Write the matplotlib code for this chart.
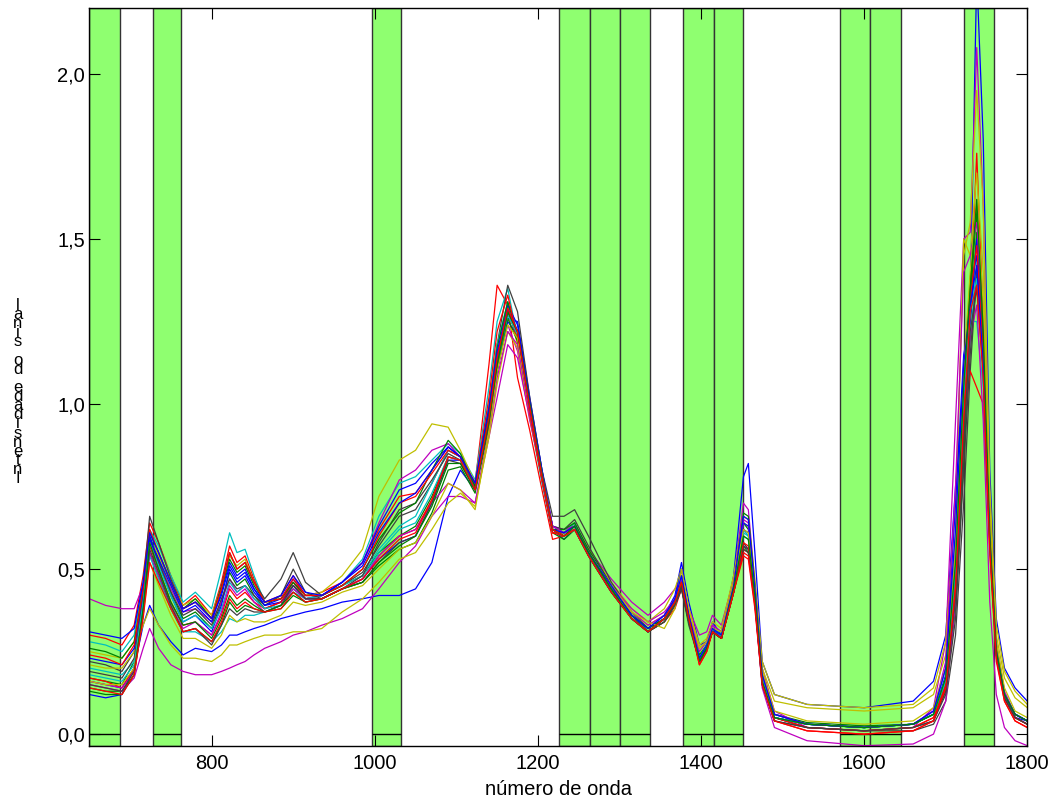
import numpy as np
import matplotlib
matplotlib.use('Agg')
import matplotlib.pyplot as plt
from matplotlib.ticker import FuncFormatter

plt.rcParams['font.family'] = ['Liberation Sans', 'DejaVu Sans']

# wavenumber grid
wn = [650, 670, 690, 705, 716, 724, 735, 750, 765, 780,
      800, 812, 822, 831, 841, 852, 865, 885, 900, 915,
      935, 960, 985, 1005, 1030, 1050, 1070, 1090, 1105, 1123,
      1140, 1150, 1163, 1175, 1190, 1205, 1218, 1232, 1245, 1262,
      1290, 1315, 1335, 1355, 1368, 1376, 1385, 1398, 1407, 1414,
      1425, 1440, 1452, 1458, 1466, 1475, 1490, 1530, 1600, 1660,
      1685, 1700, 1712, 1722, 1730, 1738, 1746, 1754, 1762, 1772,
      1785, 1800]

s01 = [0.12, 0.11, 0.12, 0.20, 0.33, 0.39, 0.33, 0.28, 0.24, 0.26,
       0.25, 0.27, 0.30, 0.30, 0.31, 0.32, 0.33, 0.35, 0.36, 0.37,
       0.38, 0.40, 0.41, 0.42, 0.42, 0.44, 0.52, 0.72, 0.80, 0.74,
       0.95, 1.10, 1.26, 1.25, 1.02, 0.80, 0.62, 0.59, 0.62, 0.55,
       0.44, 0.36, 0.32, 0.36, 0.42, 0.52, 0.40, 0.27, 0.28, 0.34,
       0.30, 0.48, 0.78, 0.82, 0.55, 0.22, 0.12, 0.09, 0.08, 0.10,
       0.16, 0.30, 0.75, 1.05, 1.30, 2.30, 1.80, 0.80, 0.35, 0.20,
       0.14, 0.10]
s02 = [0.17, 0.16, 0.15, 0.22, 0.42, 0.60, 0.53, 0.43, 0.35, 0.37,
       0.32, 0.40, 0.49, 0.45, 0.47, 0.42, 0.38, 0.40, 0.45, 0.41,
       0.42, 0.45, 0.48, 0.55, 0.60, 0.63, 0.72, 0.84, 0.83, 0.74,
       0.96, 1.14, 1.29, 1.20, 0.98, 0.78, 0.62, 0.61, 0.64, 0.55,
       0.44, 0.36, 0.32, 0.35, 0.40, 0.46, 0.35, 0.24, 0.27, 0.32,
       0.30, 0.45, 0.64, 0.62, 0.42, 0.17, 0.06, 0.035, 0.025, 0.03,
       0.06, 0.14, 0.38, 0.82, 1.25, 1.52, 1.15, 0.62, 0.26, 0.12,
       0.06, 0.04]
s03 = [0.30, 0.29, 0.27, 0.33, 0.48, 0.64, 0.58, 0.48, 0.39, 0.42,
       0.36, 0.46, 0.57, 0.52, 0.54, 0.47, 0.40, 0.42, 0.48, 0.42,
       0.43, 0.46, 0.52, 0.62, 0.72, 0.73, 0.80, 0.87, 0.84, 0.76,
       1.12, 1.36, 1.30, 1.08, 0.92, 0.74, 0.59, 0.60, 0.62, 0.54,
       0.43, 0.35, 0.31, 0.34, 0.38, 0.44, 0.34, 0.22, 0.26, 0.31,
       0.29, 0.43, 0.56, 0.55, 0.40, 0.16, 0.05, 0.02, 0.01, 0.02,
       0.05, 0.13, 0.42, 0.90, 1.30, 1.76, 1.25, 0.62, 0.24, 0.11,
       0.05, 0.03]
s04 = [0.28, 0.27, 0.25, 0.30, 0.46, 0.62, 0.57, 0.48, 0.40, 0.43,
       0.38, 0.50, 0.61, 0.55, 0.56, 0.48, 0.40, 0.41, 0.45, 0.41,
       0.42, 0.46, 0.53, 0.66, 0.76, 0.78, 0.83, 0.88, 0.85, 0.77,
       1.05, 1.25, 1.35, 1.20, 0.96, 0.76, 0.61, 0.61, 0.64, 0.55,
       0.44, 0.36, 0.31, 0.35, 0.40, 0.45, 0.34, 0.23, 0.27, 0.32,
       0.30, 0.44, 0.62, 0.60, 0.42, 0.17, 0.06, 0.03, 0.02, 0.03,
       0.06, 0.16, 0.45, 0.92, 1.20, 1.42, 1.12, 0.58, 0.24, 0.12,
       0.06, 0.04]
s05 = [0.41, 0.39, 0.38, 0.38, 0.45, 0.58, 0.52, 0.44, 0.37, 0.38,
       0.34, 0.40, 0.47, 0.43, 0.45, 0.41, 0.38, 0.40, 0.44, 0.41,
       0.42, 0.46, 0.52, 0.64, 0.77, 0.80, 0.86, 0.88, 0.84, 0.76,
       0.98, 1.12, 1.24, 1.16, 0.95, 0.78, 0.63, 0.62, 0.63, 0.56,
       0.47, 0.40, 0.36, 0.40, 0.44, 0.47, 0.38, 0.30, 0.31, 0.36,
       0.33, 0.47, 0.70, 0.68, 0.46, 0.20, 0.07, 0.02, 0.01, 0.02,
       0.08, 0.28, 0.95, 1.50, 1.52, 2.08, 1.60, 0.70, 0.28, 0.13,
       0.06, 0.04]
s06 = [0.25, 0.24, 0.23, 0.28, 0.44, 0.59, 0.54, 0.46, 0.39, 0.41,
       0.36, 0.45, 0.54, 0.51, 0.53, 0.46, 0.40, 0.41, 0.46, 0.42,
       0.43, 0.48, 0.56, 0.72, 0.83, 0.86, 0.94, 0.93, 0.86, 0.76,
       1.00, 1.18, 1.30, 1.18, 0.96, 0.77, 0.62, 0.61, 0.63, 0.56,
       0.46, 0.38, 0.34, 0.38, 0.44, 0.50, 0.38, 0.27, 0.29, 0.34,
       0.32, 0.48, 0.66, 0.65, 0.47, 0.22, 0.12, 0.09, 0.08, 0.09,
       0.14, 0.28, 0.70, 1.45, 1.55, 1.95, 1.60, 0.75, 0.33, 0.19,
       0.13, 0.09]
s07 = [0.22, 0.21, 0.19, 0.25, 0.45, 0.66, 0.58, 0.47, 0.38, 0.40,
       0.35, 0.45, 0.55, 0.50, 0.52, 0.46, 0.41, 0.47, 0.55, 0.46,
       0.42, 0.45, 0.49, 0.57, 0.66, 0.68, 0.76, 0.86, 0.84, 0.75,
       0.98, 1.18, 1.36, 1.28, 1.02, 0.80, 0.66, 0.66, 0.68, 0.60,
       0.46, 0.37, 0.32, 0.35, 0.39, 0.44, 0.34, 0.23, 0.26, 0.31,
       0.29, 0.43, 0.58, 0.56, 0.40, 0.16, 0.05, 0.02, 0.01, 0.01,
       0.03, 0.10, 0.30, 0.70, 1.10, 1.40, 1.18, 0.65, 0.27, 0.12,
       0.05, 0.03]
s08 = [0.16, 0.15, 0.14, 0.20, 0.40, 0.60, 0.52, 0.42, 0.34, 0.36,
       0.31, 0.39, 0.50, 0.46, 0.48, 0.43, 0.39, 0.40, 0.45, 0.41,
       0.41, 0.44, 0.47, 0.53, 0.58, 0.60, 0.70, 0.83, 0.83, 0.74,
       0.94, 1.10, 1.25, 1.21, 1.00, 0.79, 0.62, 0.60, 0.62, 0.54,
       0.43, 0.35, 0.31, 0.35, 0.40, 0.47, 0.35, 0.22, 0.26, 0.32,
       0.29, 0.44, 0.62, 0.61, 0.42, 0.16, 0.05, 0.03, 0.02, 0.03,
       0.06, 0.18, 0.55, 1.10, 1.35, 1.45, 1.10, 0.58, 0.24, 0.11,
       0.05, 0.04]
s09 = [0.14, 0.13, 0.13, 0.18, 0.36, 0.55, 0.48, 0.38, 0.31, 0.32,
       0.28, 0.33, 0.40, 0.37, 0.39, 0.38, 0.37, 0.38, 0.42, 0.40,
       0.41, 0.44, 0.46, 0.51, 0.56, 0.58, 0.67, 0.80, 0.81, 0.73,
       0.93, 1.10, 1.26, 1.19, 0.98, 0.78, 0.61, 0.59, 0.62, 0.54,
       0.43, 0.35, 0.31, 0.34, 0.39, 0.45, 0.34, 0.22, 0.26, 0.31,
       0.29, 0.44, 0.57, 0.55, 0.40, 0.16, 0.05, 0.03, 0.02, 0.03,
       0.06, 0.17, 0.50, 1.00, 1.38, 1.58, 1.20, 0.60, 0.25, 0.12,
       0.06, 0.04]
s10 = [0.17, 0.16, 0.14, 0.20, 0.39, 0.57, 0.50, 0.40, 0.33, 0.34,
       0.30, 0.36, 0.44, 0.41, 0.43, 0.40, 0.38, 0.40, 0.46, 0.41,
       0.41, 0.44, 0.47, 0.54, 0.60, 0.62, 0.71, 0.84, 0.83, 0.74,
       0.97, 1.15, 1.28, 1.20, 0.97, 0.77, 0.61, 0.60, 0.63, 0.55,
       0.44, 0.35, 0.31, 0.35, 0.40, 0.46, 0.35, 0.21, 0.25, 0.31,
       0.29, 0.43, 0.54, 0.53, 0.38, 0.15, 0.04, 0.01, 0.00, 0.01,
       0.04, 0.14, 0.45, 0.95, 1.10, 1.05, 1.00, 0.55, 0.22, 0.10,
       0.04, 0.02]
s11 = [0.20, 0.19, 0.18, 0.22, 0.38, 0.54, 0.47, 0.38, 0.31, 0.31,
       0.28, 0.31, 0.35, 0.34, 0.36, 0.36, 0.37, 0.39, 0.43, 0.41,
       0.42, 0.45, 0.48, 0.56, 0.63, 0.66, 0.76, 0.86, 0.84, 0.75,
       0.99, 1.18, 1.31, 1.22, 0.99, 0.78, 0.62, 0.60, 0.63, 0.55,
       0.44, 0.35, 0.31, 0.35, 0.40, 0.46, 0.35, 0.23, 0.27, 0.32,
       0.30, 0.45, 0.60, 0.59, 0.41, 0.17, 0.05, 0.03, 0.02, 0.03,
       0.06, 0.17, 0.52, 1.05, 1.25, 1.25, 1.05, 0.58, 0.24, 0.12,
       0.06, 0.04]
s12 = [0.15, 0.14, 0.13, 0.17, 0.26, 0.32, 0.26, 0.21, 0.19, 0.18,
       0.18, 0.19, 0.20, 0.21, 0.22, 0.24, 0.26, 0.28, 0.30, 0.31,
       0.33, 0.35, 0.38, 0.44, 0.52, 0.57, 0.66, 0.72, 0.72, 0.70,
       0.90, 1.02, 1.18, 1.14, 0.96, 0.78, 0.63, 0.61, 0.62, 0.55,
       0.45, 0.38, 0.34, 0.37, 0.41, 0.44, 0.36, 0.26, 0.28, 0.33,
       0.31, 0.44, 0.57, 0.56, 0.40, 0.14, 0.02, -0.02, -0.035, -0.03,
       0.00, 0.10, 0.40, 0.90, 1.20, 1.30, 0.95, 0.40, 0.12, 0.02,
       -0.02, -0.035]
s13 = [0.21, 0.20, 0.20, 0.25, 0.33, 0.38, 0.33, 0.27, 0.23, 0.23,
       0.22, 0.24, 0.27, 0.27, 0.28, 0.29, 0.30, 0.30, 0.31, 0.31,
       0.32, 0.37, 0.41, 0.46, 0.53, 0.55, 0.62, 0.70, 0.73, 0.69,
       0.90, 1.06, 1.22, 1.17, 0.97, 0.78, 0.62, 0.60, 0.62, 0.55,
       0.45, 0.37, 0.33, 0.36, 0.41, 0.48, 0.36, 0.26, 0.28, 0.32,
       0.31, 0.46, 0.64, 0.63, 0.45, 0.20, 0.10, 0.08, 0.07, 0.08,
       0.12, 0.24, 0.60, 1.50, 1.45, 1.70, 1.40, 0.70, 0.30, 0.17,
       0.11, 0.08]
s14 = [0.19, 0.18, 0.17, 0.23, 0.41, 0.59, 0.52, 0.43, 0.36, 0.38,
       0.33, 0.41, 0.47, 0.44, 0.45, 0.42, 0.39, 0.42, 0.50, 0.43,
       0.41, 0.44, 0.48, 0.58, 0.68, 0.70, 0.77, 0.85, 0.83, 0.75,
       0.96, 1.13, 1.28, 1.22, 1.00, 0.79, 0.63, 0.62, 0.65, 0.57,
       0.45, 0.36, 0.31, 0.34, 0.39, 0.44, 0.33, 0.22, 0.26, 0.31,
       0.29, 0.43, 0.57, 0.56, 0.40, 0.15, 0.04, 0.02, 0.01, 0.02,
       0.04, 0.12, 0.35, 0.80, 1.15, 1.40, 1.10, 0.58, 0.24, 0.11,
       0.05, 0.03]
s15 = [0.23, 0.22, 0.21, 0.26, 0.43, 0.59, 0.53, 0.45, 0.37, 0.39,
       0.34, 0.43, 0.52, 0.48, 0.50, 0.44, 0.39, 0.41, 0.47, 0.42,
       0.42, 0.46, 0.52, 0.63, 0.74, 0.76, 0.82, 0.87, 0.84, 0.76,
       0.97, 1.14, 1.30, 1.24, 1.01, 0.80, 0.63, 0.61, 0.63, 0.55,
       0.44, 0.35, 0.31, 0.35, 0.41, 0.50, 0.36, 0.22, 0.26, 0.31,
       0.29, 0.44, 0.64, 0.63, 0.43, 0.17, 0.05, 0.03, 0.02, 0.03,
       0.07, 0.20, 0.70, 1.15, 1.25, 1.50, 1.15, 0.60, 0.25, 0.12,
       0.06, 0.04]
s16 = [0.26, 0.25, 0.23, 0.28, 0.44, 0.61, 0.55, 0.46, 0.38, 0.41,
       0.35, 0.44, 0.53, 0.49, 0.51, 0.45, 0.40, 0.41, 0.46, 0.42,
       0.42, 0.45, 0.50, 0.59, 0.67, 0.70, 0.80, 0.89, 0.85, 0.75,
       0.98, 1.17, 1.31, 1.21, 0.98, 0.78, 0.62, 0.62, 0.64, 0.56,
       0.45, 0.36, 0.32, 0.35, 0.40, 0.46, 0.35, 0.23, 0.27, 0.32,
       0.30, 0.45, 0.67, 0.66, 0.45, 0.18, 0.06, 0.03, 0.02, 0.03,
       0.06, 0.15, 0.42, 0.90, 1.30, 1.60, 1.22, 0.62, 0.26, 0.12,
       0.06, 0.04]
s17 = [0.24, 0.23, 0.21, 0.27, 0.44, 0.62, 0.55, 0.46, 0.38, 0.40,
       0.35, 0.44, 0.55, 0.50, 0.52, 0.46, 0.40, 0.41, 0.47, 0.42,
       0.42, 0.45, 0.50, 0.60, 0.70, 0.72, 0.79, 0.86, 0.84, 0.76,
       1.02, 1.22, 1.33, 1.20, 0.97, 0.77, 0.61, 0.61, 0.63, 0.55,
       0.44, 0.35, 0.31, 0.35, 0.40, 0.46, 0.35, 0.22, 0.26, 0.31,
       0.29, 0.43, 0.58, 0.57, 0.41, 0.16, 0.05, 0.02, 0.01, 0.02,
       0.05, 0.15, 0.48, 1.00, 1.32, 1.48, 1.15, 0.60, 0.25, 0.11,
       0.05, 0.03]
s18 = [0.18, 0.17, 0.16, 0.21, 0.40, 0.58, 0.51, 0.42, 0.34, 0.36,
       0.32, 0.38, 0.46, 0.43, 0.45, 0.41, 0.38, 0.39, 0.44, 0.41,
       0.41, 0.44, 0.47, 0.55, 0.62, 0.64, 0.73, 0.84, 0.83, 0.74,
       0.95, 1.12, 1.27, 1.21, 0.99, 0.78, 0.62, 0.60, 0.63, 0.55,
       0.44, 0.35, 0.31, 0.35, 0.40, 0.46, 0.35, 0.23, 0.27, 0.32,
       0.30, 0.45, 0.61, 0.60, 0.42, 0.17, 0.05, 0.03, 0.02, 0.03,
       0.06, 0.16, 0.50, 1.02, 1.28, 1.38, 1.12, 0.60, 0.25, 0.12,
       0.06, 0.04]
s19 = [0.16, 0.15, 0.14, 0.19, 0.37, 0.55, 0.48, 0.39, 0.32, 0.34,
       0.30, 0.37, 0.45, 0.42, 0.44, 0.40, 0.37, 0.39, 0.44, 0.41,
       0.41, 0.44, 0.47, 0.54, 0.60, 0.62, 0.70, 0.76, 0.74, 0.70,
       0.92, 1.08, 1.22, 1.18, 0.98, 0.79, 0.63, 0.61, 0.62, 0.55,
       0.45, 0.37, 0.33, 0.36, 0.41, 0.47, 0.36, 0.25, 0.28, 0.33,
       0.31, 0.46, 0.65, 0.64, 0.44, 0.18, 0.06, 0.03, 0.02, 0.03,
       0.07, 0.22, 0.75, 1.40, 1.45, 1.55, 1.25, 0.62, 0.25, 0.12,
       0.06, 0.04]
s20 = [0.16, 0.15, 0.15, 0.20, 0.36, 0.52, 0.45, 0.36, 0.29, 0.29,
       0.26, 0.30, 0.36, 0.34, 0.35, 0.34, 0.34, 0.36, 0.40, 0.39,
       0.40, 0.43, 0.45, 0.50, 0.56, 0.58, 0.66, 0.76, 0.74, 0.68,
       0.92, 1.10, 1.24, 1.20, 0.99, 0.78, 0.62, 0.60, 0.62, 0.55,
       0.45, 0.37, 0.34, 0.32, 0.38, 0.50, 0.38, 0.26, 0.28, 0.32,
       0.31, 0.46, 0.62, 0.61, 0.44, 0.19, 0.07, 0.04, 0.03, 0.04,
       0.08, 0.20, 0.55, 1.10, 1.40, 1.62, 1.30, 0.65, 0.28, 0.14,
       0.07, 0.05]
s21 = [0.15, 0.14, 0.13, 0.19, 0.37, 0.56, 0.49, 0.39, 0.31, 0.32,
       0.27, 0.33, 0.38, 0.36, 0.38, 0.37, 0.37, 0.39, 0.45, 0.41,
       0.41, 0.44, 0.46, 0.52, 0.58, 0.60, 0.70, 0.83, 0.82, 0.74,
       0.94, 1.12, 1.28, 1.22, 0.99, 0.78, 0.62, 0.60, 0.62, 0.55,
       0.44, 0.35, 0.31, 0.35, 0.39, 0.45, 0.34, 0.22, 0.26, 0.31,
       0.29, 0.43, 0.56, 0.55, 0.40, 0.15, 0.04, 0.02, 0.01, 0.02,
       0.04, 0.13, 0.42, 0.88, 1.22, 1.35, 1.10, 0.58, 0.24, 0.11,
       0.05, 0.03]
s22 = [0.31, 0.30, 0.29, 0.32, 0.46, 0.61, 0.55, 0.46, 0.38, 0.40,
       0.35, 0.42, 0.51, 0.47, 0.49, 0.44, 0.40, 0.42, 0.48, 0.43,
       0.42, 0.46, 0.51, 0.61, 0.70, 0.73, 0.80, 0.87, 0.84, 0.76,
       0.99, 1.16, 1.29, 1.22, 0.99, 0.78, 0.62, 0.61, 0.63, 0.55,
       0.45, 0.36, 0.32, 0.36, 0.41, 0.48, 0.36, 0.23, 0.27, 0.32,
       0.30, 0.45, 0.66, 0.65, 0.44, 0.18, 0.06, 0.03, 0.02, 0.03,
       0.07, 0.20, 0.62, 1.12, 1.30, 1.42, 1.12, 0.60, 0.25, 0.12,
       0.06, 0.04]
s23 = [0.13, 0.12, 0.12, 0.18, 0.38, 0.58, 0.50, 0.40, 0.33, 0.34,
       0.29, 0.35, 0.42, 0.39, 0.41, 0.39, 0.37, 0.39, 0.43, 0.40,
       0.41, 0.44, 0.46, 0.52, 0.57, 0.60, 0.69, 0.82, 0.82, 0.74,
       0.95, 1.12, 1.28, 1.22, 1.00, 0.79, 0.62, 0.60, 0.63, 0.55,
       0.44, 0.35, 0.31, 0.35, 0.40, 0.46, 0.35, 0.22, 0.26, 0.31,
       0.29, 0.44, 0.60, 0.59, 0.42, 0.16, 0.05, 0.03, 0.02, 0.03,
       0.06, 0.17, 0.52, 1.05, 1.35, 1.62, 1.22, 0.60, 0.25, 0.12,
       0.06, 0.04]
s24 = [0.14, 0.13, 0.12, 0.18, 0.35, 0.52, 0.46, 0.38, 0.31, 0.32,
       0.28, 0.34, 0.41, 0.38, 0.40, 0.38, 0.37, 0.38, 0.43, 0.40,
       0.41, 0.44, 0.47, 0.53, 0.59, 0.61, 0.71, 0.84, 0.83, 0.74,
       0.96, 1.14, 1.29, 1.22, 0.99, 0.78, 0.62, 0.60, 0.62, 0.54,
       0.43, 0.35, 0.31, 0.35, 0.40, 0.46, 0.35, 0.21, 0.25, 0.31,
       0.29, 0.43, 0.55, 0.54, 0.39, 0.15, 0.04, 0.01, 0.00, 0.01,
       0.04, 0.14, 0.44, 0.95, 1.28, 1.36, 1.08, 0.56, 0.23, 0.10,
       0.04, 0.02]

spectra = [s01, s02, s03, s04, s05, s06, s07, s08, s09, s10, s11, s12,
           s13, s14, s15, s16, s17, s18, s19, s20, s21, s22, s23, s24]

# selected intervals (green bands)
band_lo = [650, 728, 997, 1226, 1264, 1301, 1378, 1416, 1570, 1607, 1723]
band_hi = [688, 763, 1032, 1264, 1301, 1338, 1416, 1452, 1607, 1645, 1759]

# old matlab color order
cols = [(0, 0, 1), (0, 0.5, 0), (1, 0, 0), (0, 0.75, 0.75),
        (0.75, 0, 0.75), (0.75, 0.75, 0), (0.25, 0.25, 0.25)]

fig = plt.figure(figsize=(10.5, 8.05), dpi=100)
ax = fig.add_axes([89.3/1050, 1-746/805, 938/1050, 738/805])

ylo, yhi = -0.036, 2.2
for lo, hi in zip(band_lo, band_hi):
    ax.axvspan(lo, hi, facecolor='#8fff70', edgecolor=(0.2, 0.2, 0.2), lw=1.0, zorder=1)
    ax.hlines(0, lo, hi, colors='k', lw=1.0, zorder=1.5)

for i, s in enumerate(spectra):
    ax.plot(wn, s, color=cols[i % 7], lw=0.9, zorder=2)

ax.set_xlim(650, 1800)
ax.set_ylim(ylo, yhi)
ax.set_xticks([800, 1000, 1200, 1400, 1600, 1800])
ax.set_yticks([0, 0.5, 1.0, 1.5, 2.0])
ax.yaxis.set_major_formatter(FuncFormatter(lambda v, p: ('%.1f' % v).replace('.', ',')))
ax.tick_params(direction='in', length=8, width=0.8, top=True, right=True,
               labelsize=14.5)
ax.tick_params(axis='x', pad=6)
ax.tick_params(axis='y', pad=3)
for sp in ax.spines.values():
    sp.set_linewidth(1.0)
    sp.set_zorder(5)

ax.set_xlabel('número de onda', fontsize=14.5, labelpad=5)

# y label: characters stacked upright, read from bottom to top
ylab = 'Intensidade do sinal'
fig.text(18/1050, 1 - 392/805, '\n'.join(reversed(ylab)), fontsize=12,
         ha='center', va='center', multialignment='center', linespacing=0.51)

fig.savefig('out.png', dpi=100)
